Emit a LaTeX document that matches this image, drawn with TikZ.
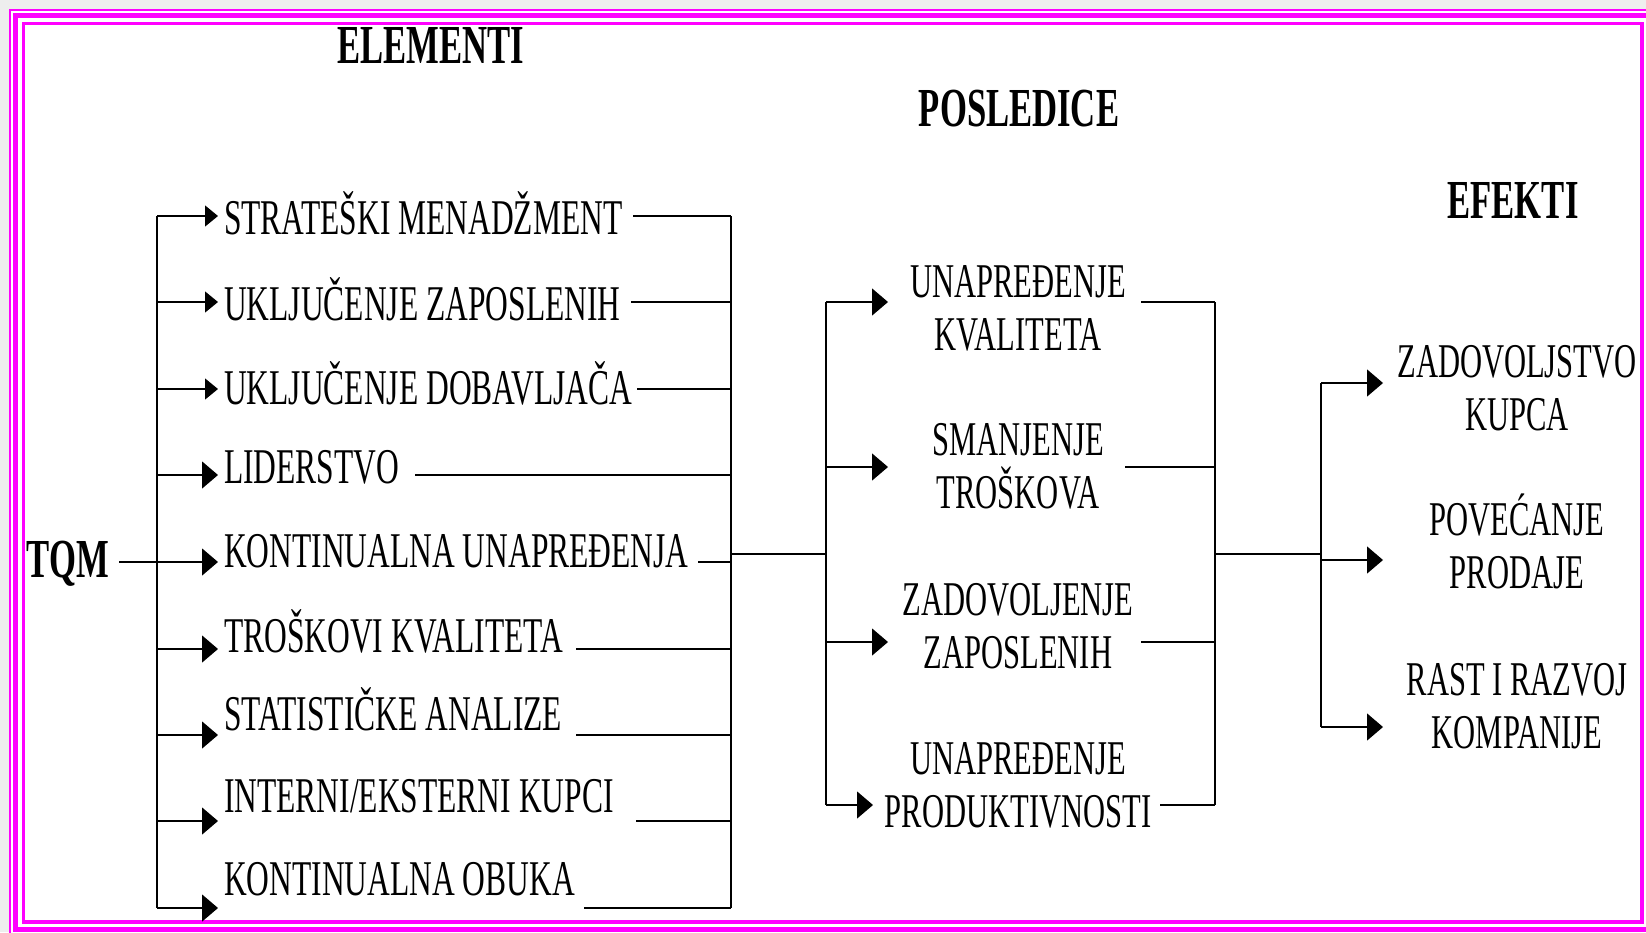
\documentclass[tikz,border=0pt]{standalone}
\usepackage{fontspec}
\setmainfont{Liberation Serif}[FakeStretch=0.63]
\usetikzlibrary{arrows.meta}
\definecolor{framec}{HTML}{FF00FF}
\definecolor{outbg}{HTML}{EEEEEE}
\begin{document}
\begin{tikzpicture}[x=1pt,y=-1pt,
  ln/.style={line width=1.3pt, black},
  arr/.style={ln, -{Triangle[length=16pt,width=27pt]}},
  sarr/.style={ln, -{Triangle[length=13pt,width=21pt]}},
  item/.style={anchor=base west, inner sep=0pt, font=\fontsize{50}{53}\selectfont},
  lab/.style={anchor=base, inner sep=0pt, align=center, font=\fontsize{48.5}{53}\selectfont},
  ttl/.style={anchor=base, inner sep=0pt, font=\fontsize{55}{60}\selectfont\bfseries},
]
\useasboundingbox (0,0) rectangle (1646,932);
\clip (0,0) rectangle (1646,932);
% frame
\fill[outbg] (0,0) rectangle (1646,932);
\fill[white] (9.5,9.5) rectangle (1660,940);
\draw[framec, line width=2.4pt] (9.8,9.8) rectangle (1656,934);
\draw[framec, line width=5pt] (15,15) rectangle (1651,929);
\draw[framec, line width=3.2pt] (23.5,23.5) rectangle (1642,922);

% titles
\node[ttl] (elem) at (431,63) {ELEMENTI};
\node[ttl] (posl) at (1019,126) {POSLEDICE};
\node[ttl] (efek) at (1513,218) {EFEKTI};
\node[ttl] (tqm) at (67.5,577) {TQM};

% left bars
\coordinate (lt) at (157,216); \coordinate (lb) at (157,908);
\coordinate (rt) at (731,216); \coordinate (rb) at (731,908);
\draw[ln] (lt) -- (lb);
\draw[ln] (rt) -- (rb);

% items
\node[item] (e1) at (224,234) {STRATEŠKI MENADŽMENT};
\node[item] (e2) at (224,320) {UKLJUČENJE ZAPOSLENIH};
\node[item] (e3) at (224,404) {UKLJUČENJE DOBAVLJAČA};
\node[item] (e4) at (224,483) {LIDERSTVO};
\node[item] (e5) at (224,567) {KONTINUALNA UNAPREĐENJA};
\node[item] (e6) at (224,652) {TROŠKOVI KVALITETA};
\node[item] (e7) at (224,730) {STATISTIČKE ANALIZE};
\node[item] (e8) at (224,812) {INTERNI/EKSTERNI KUPCI};
\node[item] (e9) at (224,895) {KONTINUALNA OBUKA};

\coordinate (a1) at (218,216); \coordinate (s1) at (633,216);
\coordinate (a2) at (218,302); \coordinate (s2) at (631,302);
\coordinate (a3) at (218,389); \coordinate (s3) at (637,389);
\coordinate (a4) at (218,475); \coordinate (s4) at (415,475);
\coordinate (a5) at (218,562); \coordinate (s5) at (698,562);
\coordinate (a6) at (218,649); \coordinate (s6) at (576,649);
\coordinate (a7) at (218,735); \coordinate (s7) at (576,735);
\coordinate (a8) at (218,821); \coordinate (s8) at (636,821);
\coordinate (a9) at (218,908); \coordinate (s9) at (584,908);

\draw[sarr] (lt |- a1) -- (a1);
\draw[sarr] (lt |- a2) -- (a2);
\draw[sarr] (lt |- a3) -- (a3);
\draw[arr] (lt |- a4) -- (a4);
\draw[arr] ([xshift=10pt]tqm.east |- a5) -- (a5);
\draw[arr] (lt |- a6) -- (a6);
\draw[arr] (lt |- a7) -- (a7);
\draw[arr] (lt |- a8) -- (a8);
\draw[arr] (lt |- a9) -- (a9);
\foreach \k in {1,...,9} { \draw[ln] (s\k) -- (rt |- s\k); }

% middle
\coordinate (j1) at (731,554);
\coordinate (mt) at (826,302); \coordinate (mb) at (826,805);
\coordinate (nt) at (1215,302); \coordinate (nb) at (1215,805);
\draw[ln] (j1) -- (mt |- j1);
\draw[ln] (mt) -- (mb);
\draw[ln] (nt) -- (nb);

% (base anchor = baseline of last line)
\node[lab] (p1) at (1018,350) {UNAPREĐENJE\\KVALITETA};
\node[lab] (p2) at (1018,508) {SMANJENJE\\TROŠKOVA};
\node[lab] (p3) at (1018,668) {ZADOVOLJENJE\\ZAPOSLENIH};
\node[lab] (p4) at (1018,827) {UNAPREĐENJE\\PRODUKTIVNOSTI};

\coordinate (b1) at (888,302); \coordinate (r1) at (1141,302);
\coordinate (b2) at (888,467); \coordinate (r2) at (1125,467);
\coordinate (b3) at (888,642); \coordinate (r3) at (1141,642);
\coordinate (b4) at (873,805); \coordinate (r4) at (1160,805);
\foreach \k in {1,...,4} {
  \draw[arr] (mt |- b\k) -- (b\k);
  \draw[ln] (r\k) -- (nt |- r\k);
}

% right
\coordinate (j2) at (1215,554);
\coordinate (qt) at (1321,383); \coordinate (qb) at (1321,727);
\draw[ln] (j2) -- (qt |- j2);
\draw[ln] (qt) -- (qb);

\node[lab] (f1) at (1517,430) {ZADOVOLJSTVO\\KUPCA};
\node[lab] (f2) at (1517,588) {POVEĆANJE\\PRODAJE};
\node[lab] (f3) at (1517,748) {RAST I RAZVOJ\\KOMPANIJE};

\coordinate (c1) at (1383,383);
\coordinate (c2) at (1383,560);
\coordinate (c3) at (1383,727);
\foreach \k in {1,2,3} { \draw[arr] (qt |- c\k) -- (c\k); }
\end{tikzpicture}
\end{document}
